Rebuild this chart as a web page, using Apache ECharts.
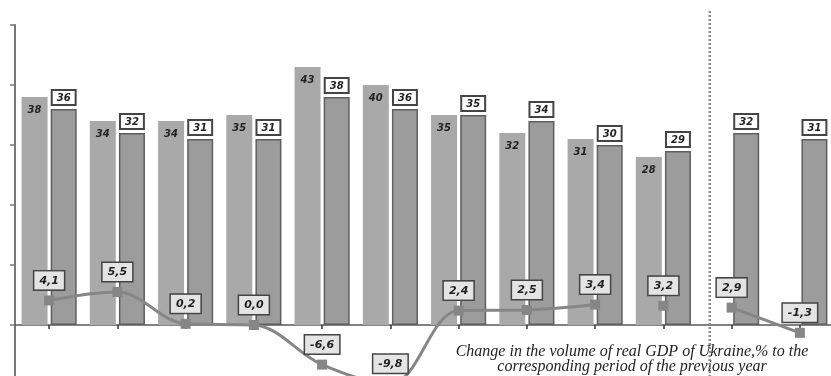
<!DOCTYPE html>
<html>
<head>
<meta charset="utf-8">
<style>html,body{margin:0;padding:0;background:#fff;}#chart{width:831px;height:376px;}</style>
<script src="https://cdn.jsdelivr.net/npm/echarts@6/dist/echarts.min.js"></script>
</head>
<body>
<div id="chart"></div>
<script>
var categories = ['1','2','3','4','5','6','7','8','9','10','11','12'];
var lightBars = [38, 34, 34, 35, 43, 40, 35, 32, 31, 28, null, null];
var darkBars = [36, 32, 31, 31, 38, 36, 35, 34, 30, 29, 32, 31];
var gdpChange = [4.1, 5.5, 0.2, 0.0, -6.6, -9.8, 2.4, 2.5, 3.4, 3.2, 2.9, -1.3];
var lineSegments = [[0, 8], [9, 9], [10, 11]];
var dividerPosition = 9.68;
var noteText = 'Change in the volume of real GDP of Ukraine,% to the\ncorresponding period of the previous year';

function segmentData(seg) {
  return gdpChange.map(function (v, i) { return (i >= seg[0] && i <= seg[1]) ? v : null; });
}
function comma(v) { return Number(v).toFixed(1).replace('.', ','); }

var lineSeries = lineSegments.map(function (seg) {
  return {
    type: 'line', xAxisIndex: 0, yAxisIndex: 0,
    data: segmentData(seg), smooth: 0.35, connectNulls: false,
    symbol: 'rect', symbolSize: 10, z: 5,
    lineStyle: { color: '#868686', width: 3 },
    itemStyle: { color: '#868686' },
    label: {
      show: true, position: 'top', distance: 6,
      formatter: function (p) { return comma(p.value); },
      fontFamily: 'DejaVu Sans', fontStyle: 'italic', fontWeight: 'bold', fontSize: 11,
      color: '#222', backgroundColor: '#e4e4e4', borderColor: '#444', borderWidth: 1.5,
      padding: [4, 5, 3, 5]
    }
  };
});

var chart = echarts.init(document.getElementById('chart'));
chart.setOption({
  animation: false,
  backgroundColor: '#fff',
  title: {
    text: noteText, left: 627, top: 339, textAlign: 'center',
    textStyle: { fontFamily: 'Liberation Serif', fontStyle: 'italic', fontWeight: 'normal', fontSize: 16, lineHeight: 15, color: '#222' }
  },
  grid: [
    { left: 15, right: -3, top: 25, bottom: -69, outerBoundsMode: 'none', containLabel: false },
    { left: 15, right: -3, top: 10, bottom: -69, outerBoundsMode: 'none', containLabel: false }
  ],
  xAxis: [
    {
      type: 'category', data: categories, gridIndex: 0,
      axisLine: { onZero: true, lineStyle: { color: '#5a5a5a', width: 1.5 } },
      axisTick: { show: true, alignWithLabel: true, length: 4, lineStyle: { color: '#333', width: 1.5 } },
      axisLabel: { show: false }, splitLine: { show: false }
    },
    { type: 'value', gridIndex: 1, min: -0.5, max: 11.5, show: false }
  ],
  yAxis: [
    {
      type: 'value', gridIndex: 0, min: -20, max: 50, interval: 10,
      axisLine: { show: true, lineStyle: { color: '#777', width: 2 } },
      axisTick: { show: true, length: 5, lineStyle: { color: '#777', width: 1.5 } },
      axisLabel: { show: false }, splitLine: { show: false }
    },
    { type: 'value', gridIndex: 1, min: 0, max: 1, show: false }
  ],
  series: [
    {
      type: 'bar', data: lightBars, barWidth: 26, barGap: '12%', z: 2,
      itemStyle: { color: '#a9a9a9' },
      label: {
        show: true, position: 'insideTop', distance: 8,
        fontFamily: 'DejaVu Sans', fontStyle: 'italic', fontWeight: 'bold', fontSize: 10, color: '#222'
      }
    },
    {
      type: 'bar', data: darkBars, barWidth: 26, z: 2,
      itemStyle: { color: '#9c9c9c', borderColor: '#5e5e5e', borderWidth: 1.5 },
      label: {
        show: true, position: 'top', distance: 5,
        fontFamily: 'DejaVu Sans', fontWeight: 'bold', fontStyle: 'italic', fontSize: 10, color: '#222',
        backgroundColor: '#fff', borderColor: '#444', borderWidth: 2, padding: [2, 4, 1, 4]
      }
    }
  ].concat(lineSeries).concat([
    {
      type: 'line', xAxisIndex: 1, yAxisIndex: 1, symbol: 'none', z: 6,
      data: [[dividerPosition, 0], [dividerPosition, 1]],
      lineStyle: { color: '#8a8a8a', width: 2.5, type: [2, 2] }
    }
  ])
});
</script>
</body>
</html>
